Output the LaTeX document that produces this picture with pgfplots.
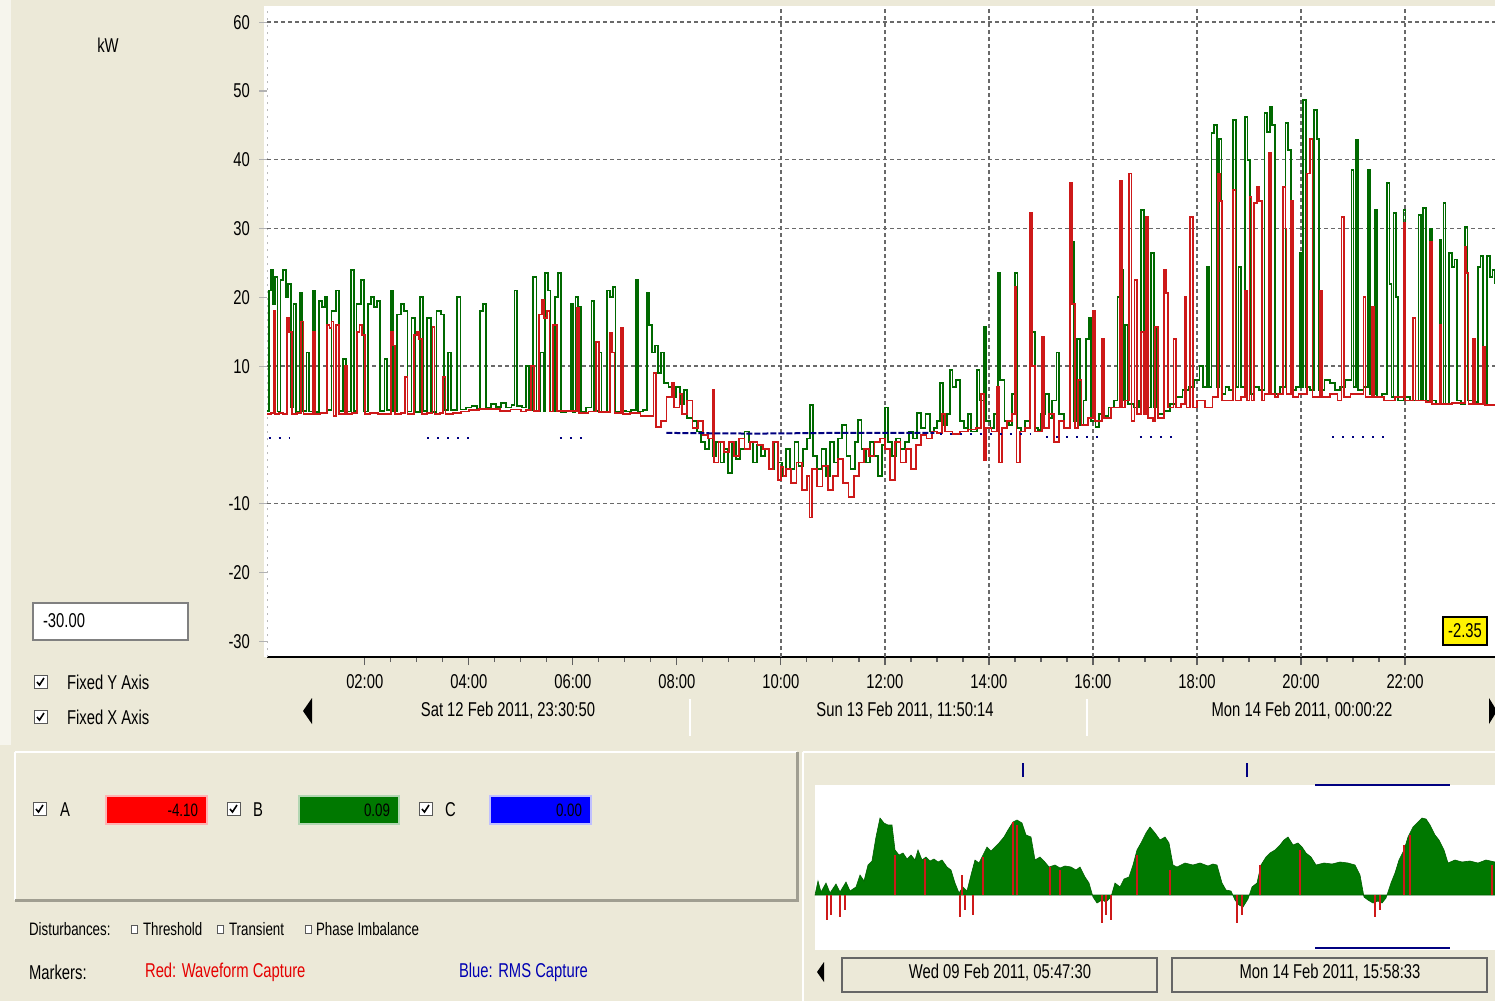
\documentclass[border=0pt]{standalone}
\usepackage{fontspec}
\setmainfont{Liberation Sans}[FakeStretch=0.74]
\usepackage{pgfplots}
\pgfplotsset{compat=1.18}

\definecolor{panel}{RGB}{236,233,216}
\definecolor{phaseA}{RGB}{205,25,25}
\definecolor{phaseB}{RGB}{0,105,0}
\definecolor{phaseC}{RGB}{0,0,128}
\definecolor{swA}{RGB}{255,0,0}
\definecolor{swB}{RGB}{0,120,0}
\definecolor{swC}{RGB}{0,0,255}
\definecolor{gridgray}{RGB}{105,105,105}
\definecolor{frame}{RGB}{160,158,145}

\newcommand{\lbl}{\fontsize{10}{12}\selectfont}
\newcommand{\slbl}{\fontsize{9}{11}\selectfont}

\tikzset{
  chk/.pic={
    \draw[gray!70!black, fill=white, line width=0.5pt] (0,0) rectangle (13,13);
    \draw[black, line width=0.8pt] (3,7) -- (5.5,10) -- (10,3);
  },
  unchk/.pic={
    \draw[gray!70!black, fill=white, line width=0.4pt] (0,0) rectangle (6,8);
  }
}

\begin{document}
\begin{tikzpicture}
\useasboundingbox (0,0) rectangle (747.5pt,-500.5pt);

% ---------- window background and static widgets (pixel grid, y down) ----------
\begin{scope}[x=0.5pt,y=-0.5pt]
  \fill[panel] (0,0) rectangle (1495,1001);
  \fill[white!55!panel] (0,0) rectangle (11,745);
  \fill[white] (264,6) rectangle (1495,657);

  % left column
  \node[font=\lbl] at (108,45) {kW};
  \draw[gray, fill=white, line width=0.6pt] (33,603) rectangle (188,640);
  \node[font=\lbl, anchor=west] at (36,621) {-30.00};
  \pic at (34,675) {chk};
  \node[font=\lbl, anchor=west] at (60,682) {Fixed Y Axis};
  \pic at (34,710) {chk};
  \node[font=\lbl, anchor=west] at (60,717) {Fixed X Axis};

  % date bar under the main chart
  \fill[black] (312,698) -- (303,711) -- (312,724) -- cycle;
  \fill[black] (1489,698) -- (1497,711) -- (1489,724) -- cycle;
  \draw[white, line width=1pt] (690,699) -- (690,736);
  \draw[white, line width=1pt] (1087,699) -- (1087,736);
  \node[font=\lbl] at (508,711) {Sat 12 Feb 2011, 23:30:50};
  \node[font=\lbl] at (905,711) {Sun 13 Feb 2011, 11:50:14};
  \node[font=\lbl] at (1302,711) {Mon 14 Feb 2011, 00:00:22};

  % phase legend panel
  \draw[white, line width=1pt] (15,752) -- (797,752);
  \draw[white, line width=1pt] (15,752) -- (15,900);
  \draw[frame, line width=1.5pt] (15,900) -- (797,900) -- (797,752);
  \pic at (33,802) {chk};
  \node[font=\lbl, anchor=west] at (53,810) {A};
  \fill[swA!30!white] (105,795) rectangle (208,825);
  \fill[swA] (107,797) rectangle (206,823);
  \node[font=\slbl, anchor=east] at (205,810) {-4.10};
  \pic at (227,802) {chk};
  \node[font=\lbl, anchor=west] at (246,810) {B};
  \fill[swB!30!white] (298,795) rectangle (400,825);
  \fill[swB] (300,797) rectangle (398,823);
  \node[font=\slbl, anchor=east] at (397,810) {0.09};
  \pic at (419,802) {chk};
  \node[font=\lbl, anchor=west] at (438,810) {C};
  \fill[swC!25!white] (489,795) rectangle (592,825);
  \fill[swC] (491,797) rectangle (590,823);
  \node[font=\slbl, anchor=east] at (589,810) {0.00};

  % disturbance and marker notes
  \node[font=\slbl, anchor=west] at (22,929) {Disturbances:};
  \pic at (131,925) {unchk};
  \node[font=\slbl, anchor=west] at (136,929) {Threshold};
  \pic at (217,925) {unchk};
  \node[font=\slbl, anchor=west] at (222,929) {Transient};
  \pic at (305,925) {unchk};
  \node[font=\slbl, anchor=west] at (309,929) {Phase Imbalance};
  \node[font=\lbl, anchor=west] at (22,972) {Markers:};
  \node[font=\lbl, anchor=west, text=swA!90!black] at (138,972) {Red: Waveform Capture};
  \node[font=\lbl, anchor=west, text=swC!70!black] at (452,972) {Blue: RMS Capture};

  % overview panel
  \draw[white, line width=1pt] (803,752) -- (803,1001);
  \draw[white, line width=1pt] (803,752) -- (1495,752);
  \fill[white] (815,785) rectangle (1495,950);
  \fill[black] (824,962) -- (817,972) -- (824,982) -- cycle;
  \draw[gray!80!black, line width=0.6pt] (842,958) rectangle (1157,992);
  \draw[gray!80!black, line width=0.6pt] (1172,958) rectangle (1487,992);
  \node[font=\lbl] at (1000,973) {Wed 09 Feb 2011, 05:47:30};
  \node[font=\lbl] at (1330,973) {Mon 14 Feb 2011, 15:58:33};
\end{scope}

% ---------- main trend chart ----------
\begin{axis}[
  at={(133.5pt,-328.5pt)}, anchor=south west,
  scale only axis, width=614pt, height=324.5pt,
  xmin=0.12, xmax=23.73, ymin=-32.27, ymax=62.06,
  axis background/.style={fill=white},
  axis x line*=bottom, axis y line*=left,
  x axis line style={black, line width=1.4pt, -},
  y axis line style={gray!55, dash pattern=on 1pt off 2.5pt, -},
  xtick={2,4,...,22},
  xticklabels={02:00,04:00,06:00,08:00,10:00,12:00,14:00,16:00,18:00,20:00,22:00},
  minor x tick num=3,
  ytick={60,50,40,30,20,10,-10,-20,-30},
  yticklabels={60,50,40,30,20,10,-10,-20,-30},
  tick align=outside,
  major tick length=4pt, minor tick length=2.5pt,
  tick style={gray!75!black, line width=0.6pt},
  ytick style={gray!60, line width=0.6pt},
  tick label style={font=\lbl},
  xticklabel style={yshift=-1pt},
  yticklabel style={xshift=-1pt},
  extra x ticks={10,12,...,22}, extra x tick labels={},
  extra x tick style={grid=major, major tick length=0pt},
  extra y ticks={60,40,30,10,-10}, extra y tick labels={},
  extra y tick style={grid=major, major tick length=0pt},
  major grid style={gridgray, line width=0.7pt, dash pattern=on 2pt off 1.5pt},
  clip=true,
]
% phase B (green)
\addplot[const plot, phaseB, line width=0.9pt] coordinates {
(0.12,3.5) (0.16,21) (0.2,24) (0.24,19) (0.28,23) (0.32,3.4) (0.38,22.5) (0.43,24) (0.48,20) (0.53,22)
(0.58,4) (0.63,19) (0.68,3.3) (0.75,20.6) (0.8,3.5) (0.88,12) (0.93,3.4) (1.0,21) (1.05,3.3) (1.12,19.5)
(1.18,18.6) (1.23,20) (1.28,3.6) (1.36,18) (1.45,21) (1.5,3.5) (1.58,11) (1.64,3.4) (1.74,24) (1.79,3.5)
(1.84,19) (1.92,22.5) (1.98,3.4) (2.06,19) (2.12,20) (2.18,18.6) (2.24,19.5) (2.3,3.5) (2.38,11) (2.43,3.6)
(2.5,21) (2.55,3.5) (2.62,17.5) (2.69,19) (2.76,18) (2.82,3.4) (2.9,17) (2.97,3.3) (3.06,20) (3.12,3.5)
(3.2,17) (3.28,3.3) (3.38,18) (3.46,17.5) (3.52,3.6) (3.6,12) (3.66,3.6) (3.78,20) (3.84,3.7) (3.95,4)
(4.05,4.2) (4.15,3.8) (4.22,18) (4.28,19) (4.33,4) (4.42,4.5) (4.52,4.1) (4.62,4.6) (4.72,4.0) (4.82,4.3)
(4.88,21) (4.93,4.2) (5.02,4.0) (5.1,10) (5.15,3.6) (5.24,23) (5.3,3.5) (5.38,12) (5.44,3.4) (5.47,23.5)
(5.52,21) (5.57,3.4) (5.65,20) (5.72,23.5) (5.78,3.3) (5.88,3.5) (5.96,19) (6.0,3.3) (6.05,20) (6.1,18.6)
(6.15,3.4) (6.26,4) (6.36,19.5) (6.41,3.5) (6.5,12) (6.55,3.4) (6.65,21) (6.71,20) (6.77,21.5) (6.82,3.3)
(6.92,3.5) (7.02,3.4) (7.12,3.6) (7.22,22.5) (7.26,3.4) (7.35,3.6) (7.42,20.6) (7.47,16) (7.52,12) (7.58,13)
(7.64,9) (7.7,12) (7.76,7.5) (7.84,7) (7.9,5.5) (7.98,7) (8.06,4.5) (8.14,6.5) (8.2,2.5) (8.3,2)
(8.38,0.5) (8.46,-1) (8.54,-2) (8.62,-0.5) (8.7,-3) (8.76,-1) (8.84,-4) (8.9,-2) (8.98,-5.5) (9.06,-1)
(9.14,-3.5) (9.22,-2) (9.3,0.5) (9.38,-1) (9.46,-4) (9.54,-1.5) (9.62,-3) (9.7,-2) (9.78,-5) (9.86,-1)
(9.94,-4) (10.02,-6) (10.1,-2) (10.18,-5) (10.26,-1) (10.34,-4.5) (10.42,-2) (10.5,-0.5) (10.56,4.4) (10.62,-3)
(10.7,-5) (10.78,-2) (10.86,-6) (10.94,-1) (11.02,-4) (11.1,-0.5) (11.18,1.5) (11.26,-3) (11.34,-5) (11.42,-1)
(11.48,2.2) (11.55,-2) (11.63,-4) (11.71,-1) (11.79,-3) (11.87,-6) (11.95,-1.5) (12.0,4) (12.06,-1) (12.14,-3)
(12.22,-0.5) (12.3,-2) (12.38,-1) (12.46,0.5) (12.54,-0.5) (12.62,3.2) (12.7,1) (12.78,3) (12.86,0.5) (12.94,1)
(13.0,2) (13.06,7.5) (13.12,1.5) (13.2,3) (13.25,9.5) (13.3,7) (13.36,8) (13.44,2) (13.52,1) (13.6,3)
(13.66,0.5) (13.77,9.5) (13.82,5) (13.9,15.7) (13.95,2) (14.03,1) (14.1,3) (14.17,23.5) (14.22,8) (14.3,2)
(14.38,1.5) (14.45,6) (14.5,23.5) (14.55,1) (14.62,0.5) (14.7,2) (14.78,26) (14.82,15) (14.88,1) (14.95,0.7)
(15.0,3) (15.08,6) (15.15,2.5) (15.22,5) (15.3,12) (15.35,3) (15.45,1) (15.55,33.7) (15.59,28) (15.64,2)
(15.7,14) (15.75,1.5) (15.82,5) (15.87,14) (15.92,17) (15.97,2) (16.05,1.2) (16.12,3) (16.2,2.8) (16.3,4)
(16.4,5) (16.47,20) (16.52,24) (16.57,5) (16.62,16) (16.67,4.5) (16.78,4) (16.88,5) (16.93,32.7) (16.98,5.5)
(17.05,4) (17.12,26.5) (17.17,4) (17.21,15.7) (17.26,3) (17.36,3.5) (17.48,4.5) (17.6,5.5) (17.72,6.5) (17.84,7)
(17.95,8) (18.05,10) (18.12,7) (18.19,24.4) (18.23,7) (18.28,43.9) (18.33,45) (18.38,7) (18.42,43) (18.47,6)
(18.55,7) (18.62,6.5) (18.7,45.8) (18.75,7) (18.8,24.4) (18.85,7) (18.92,46.2) (18.97,40) (19.02,6) (19.1,7)
(19.2,6.5) (19.3,46.8) (19.35,44) (19.4,47.7) (19.45,45) (19.5,6) (19.6,7) (19.7,45.3) (19.75,41.4) (19.8,6.5)
(19.9,7) (19.98,26.5) (20.01,7) (20.04,48.7) (20.09,7) (20.18,6.5) (20.25,47.2) (20.3,43) (20.35,6.5) (20.45,8)
(20.55,7.5) (20.65,6.5) (20.75,7) (20.85,8) (20.97,38.5) (21.01,7) (21.06,42.9) (21.1,6.5) (21.2,7) (21.29,38.5)
(21.33,6) (21.42,32.7) (21.46,5.5) (21.55,6) (21.65,36.6) (21.7,22) (21.74,5.5) (21.78,32.3) (21.82,20) (21.86,5)
(21.97,32.7) (22.01,5.5) (22.1,5) (22.26,32) (22.3,5) (22.35,33) (22.4,5) (22.48,30) (22.52,5) (22.6,4.5)
(22.67,28.3) (22.7,4.5) (22.74,33.7) (22.78,4.5) (22.85,26.5) (22.9,24.4) (22.95,25.5) (23.0,5) (23.08,4.5) (23.15,30.2)
(23.2,5) (23.3,4.8) (23.4,24.4) (23.45,26) (23.5,4.6) (23.58,26) (23.63,23) (23.68,24) (23.73,22)
};
% phase A (red)
\addplot[const plot, phaseA, line width=0.9pt] coordinates {
(0.12,3) (0.2,3.2) (0.25,18) (0.28,3) (0.35,3.2) (0.42,3) (0.5,17) (0.55,15) (0.6,3) (0.7,3.2)
(0.78,16.5) (0.82,3) (0.95,3.1) (1.0,15) (1.04,3) (1.15,3.2) (1.28,16) (1.32,15.5) (1.36,16.5) (1.4,2.8)
(1.45,16) (1.5,3) (1.62,10) (1.66,3) (1.75,3.2) (1.85,15) (1.9,16) (1.94,14.5) (2.0,3) (2.1,3.2)
(2.25,3) (2.4,3.1) (2.5,15) (2.54,13) (2.58,3) (2.7,3.2) (2.77,8.4) (2.82,3) (2.95,14.5) (3.0,15)
(3.05,14) (3.1,3) (3.2,3.2) (3.3,15.7) (3.34,3) (3.45,3.2) (3.5,8.4) (3.55,3) (3.7,3.2) (3.85,3.4)
(4.0,3.6) (4.2,3.8) (4.4,3.8) (4.6,3.5) (4.8,3.7) (5.0,3.4) (5.1,3.6) (5.2,10) (5.25,3.5) (5.35,17.5)
(5.4,19.6) (5.45,17) (5.5,18) (5.55,3.4) (5.62,16) (5.7,3.5) (6.04,3.4) (6.08,18.5) (6.12,3.2) (6.3,3.4)
(6.45,13.5) (6.5,3.3) (6.72,14.8) (6.76,12) (6.8,3.2) (6.92,15.5) (6.96,3.1) (7.1,3.2) (7.3,2.8) (7.55,9)
(7.6,1.2) (7.7,2) (7.8,5.5) (7.9,7.5) (7.95,4) (8.05,6) (8.1,3) (8.2,5) (8.3,1) (8.4,2)
(8.5,0) (8.6,-0.5) (8.7,6.5) (8.72,-4) (8.8,-1) (8.9,-2.5) (9.0,-1) (9.1,-3) (9.2,-0.5) (9.3,-2)
(9.4,-1) (9.55,-1.5) (9.65,-2) (9.77,-5) (9.85,-1) (9.95,-6.5) (10.0,-4.6) (10.05,-6) (10.1,-5) (10.2,-7)
(10.3,-4) (10.4,-8) (10.5,-6) (10.55,-12) (10.6,-5) (10.7,-7.5) (10.8,-4.5) (10.9,-8) (11.0,-6) (11.1,-3.5)
(11.2,-7) (11.3,-9) (11.4,-6) (11.5,-4) (11.6,-2) (11.7,-3) (11.8,-1) (11.9,-0.5) (12.0,-2) (12.1,-6.5)
(12.2,-1) (12.3,-4) (12.4,-2) (12.5,-5) (12.6,-1.5) (12.7,0) (12.8,-0.5) (12.9,0.5) (13.0,0.3) (13.1,3)
(13.15,0.5) (13.3,0.2) (13.45,0.5) (13.6,0.8) (13.75,1) (13.85,6) (13.9,-3.6) (13.95,1) (14.05,0.5) (14.15,7)
(14.19,-4) (14.25,1) (14.35,2) (14.45,3) (14.5,21.5) (14.53,-4) (14.6,0.5) (14.7,1) (14.79,32.3) (14.83,10)
(14.88,0.5) (14.95,0.5) (15.02,14.2) (15.06,1) (15.15,3) (15.25,-1) (15.35,2) (15.45,1) (15.56,36.6) (15.6,19)
(15.65,1) (15.72,8) (15.78,1.5) (15.9,2.5) (16.0,18) (16.04,2) (16.17,14) (16.22,2.5) (16.35,4) (16.52,37)
(16.56,4) (16.62,5) (16.7,38) (16.74,2) (16.8,22.5) (16.85,3) (16.93,15) (16.98,3) (17.02,31.7) (17.06,2.5)
(17.15,2) (17.2,15.7) (17.25,2.5) (17.36,24) (17.4,20.6) (17.44,4) (17.55,14) (17.6,4) (17.7,4.5) (17.77,20)
(17.8,4) (17.87,31.7) (17.92,4) (18.0,5) (18.15,4) (18.3,5.5) (18.41,38) (18.44,34) (18.48,5) (18.6,5)
(18.7,35.6) (18.74,5) (18.85,5.5) (18.92,21) (18.96,5) (19.01,34.6) (19.05,5) (19.1,33.7) (19.15,36) (19.2,34)
(19.25,5) (19.3,6) (19.38,41) (19.42,6) (19.5,5.5) (19.56,6) (19.65,36) (19.7,30) (19.72,6) (19.8,34)
(19.84,5.5) (19.95,6) (20.12,38) (20.17,43) (20.22,5.5) (20.36,21) (20.4,5.5) (20.55,6) (20.7,5) (20.78,31.7)
(20.82,5.5) (20.95,6) (21.2,20) (21.24,5.5) (21.36,18.6) (21.4,5.5) (21.6,5) (21.8,5.5) (21.97,30.8) (22.0,5)
(22.16,17) (22.2,5) (22.4,4.8) (22.48,28) (22.52,4.5) (22.67,16) (22.7,4.5) (22.9,4.6) (23.15,27.3) (23.18,23.5)
(23.22,4.5) (23.31,14) (23.35,4.5) (23.5,12.8) (23.54,4.3) (23.73,4.5)
};
% phase C (blue), sparse captures
\addplot[phaseC, line width=1pt, dash pattern=on 1pt off 4pt, unbounded coords=jump] coordinates {
(0.15,-0.5) (0.55,-0.5) (0.6,nan) (3.2,-0.5) (4.1,-0.5) (4.15,nan) (5.75,-0.5) (6.3,-0.5) (6.35,nan)
(13.05,0.1) (14.8,0.1) (14.85,nan) (15.1,-0.3) (16.1,-0.3) (16.15,nan) (16.9,-0.3) (17.6,-0.3) (17.65,nan)
(20.6,-0.3) (21.6,-0.3)
};
% phase C (blue), continuous stretch
\addplot[phaseC, line width=1pt, dash pattern=on 3pt off 1pt] coordinates {
(7.8,0.3) (9.5,0.2) (11.0,0.3) (12.95,0.3)
};
\end{axis}

% ---------- overview strip ----------
\begin{axis}[
  at={(407.5pt,-475pt)}, anchor=south west,
  scale only axis, width=340pt, height=82.5pt,
  xmin=815, xmax=1495, ymin=-55, ymax=110,
  hide axis, clip=false,
]
\addplot[fill=swB, draw=swB!80!black, line width=0.3pt] coordinates {
(815,0) (818,14) (821,3) (826,12) (830,2) (836,11) (840,3) (846,13) (850,4) (856,8)
(860,20) (864,14) (868,30) (872,34) (876,58) (880,77) (884,72) (888,70) (892,70) (895,45)
(899,40) (903,42) (907,36) (911,40) (915,35) (918,45) (922,35) (926,38) (930,34) (934,36)
(938,33) (942,35) (947,28) (951,25) (955,12) (959,2) (963,8) (967,4) (971,20) (975,35)
(979,32) (983,40) (987,48) (991,44) (995,48) (999,52) (1004,58) (1008,65) (1013,73) (1017,75)
(1022,72) (1026,60) (1031,58) (1035,35) (1040,38) (1044,34) (1049,28) (1055,30) (1060,27) (1065,29)
(1071,28) (1076,25) (1080,28) (1085,18) (1089,12) (1093,-2) (1097,-8) (1102,-5) (1106,-7) (1111,-2)
(1115,12) (1120,8) (1124,16) (1129,18) (1133,30) (1137,45) (1141,52) (1146,62) (1150,68) (1155,62)
(1160,55) (1165,58) (1169,52) (1173,30) (1177,28) (1185,32) (1193,30) (1200,32) (1208,29) (1213,31)
(1217,30) (1222,12) (1226,5) (1231,4) (1235,-5) (1239,-10) (1243,-12) (1248,-4) (1252,8) (1257,12)
(1261,30) (1266,38) (1270,42) (1275,45) (1280,50) (1284,55) (1288,58) (1293,50) (1298,52) (1302,48)
(1306,42) (1311,38) (1316,30) (1324,32) (1332,31) (1340,33) (1348,32) (1355,30) (1360,20) (1364,-2)
(1368,-5) (1373,-8) (1378,-6) (1382,-8) (1386,-3) (1391,12) (1395,22) (1399,35) (1404,45) (1408,58)
(1413,68) (1417,72) (1422,77) (1426,76) (1430,70) (1435,60) (1439,55) (1444,45) (1448,32) (1455,35)
(1462,33) (1470,34) (1478,32) (1486,35) (1495,33)
} \closedcycle;
% phase A inside the overview
\addplot[ycomb, phaseA, line width=0.8pt] coordinates {
(827,-25) (831,-20) (840,-22) (845,-15) (895,40) (925,36) (960,-22) (962,20) (965,-15) (973,-20)
(983,38) (1013,73) (1017,70) (1050,28) (1060,25) (1102,-28) (1106,-20) (1111,-25) (1137,40) (1170,25)
(1237,-28) (1242,-20) (1260,30) (1300,45) (1375,-22) (1380,-15) (1404,50) (1410,60) (1492,30)
};
% RMS capture markers and selected window
\addplot[phaseC, line width=1.4pt, unbounded coords=jump] coordinates {
(1023,118) (1023,132) (1023,nan) (1247,118) (1247,132) (1247,nan)
(1315,110) (1450,110) (1450,nan) (1315,-53) (1450,-53)
};
\end{axis}

% cursor value tag
\begin{scope}[x=0.5pt,y=-0.5pt]
  \draw[black, fill=yellow, line width=0.8pt] (1443,617) rectangle (1487,645);
  \node[font=\lbl] at (1465,631) {-2.35};
\end{scope}
\end{tikzpicture}
\end{document}
